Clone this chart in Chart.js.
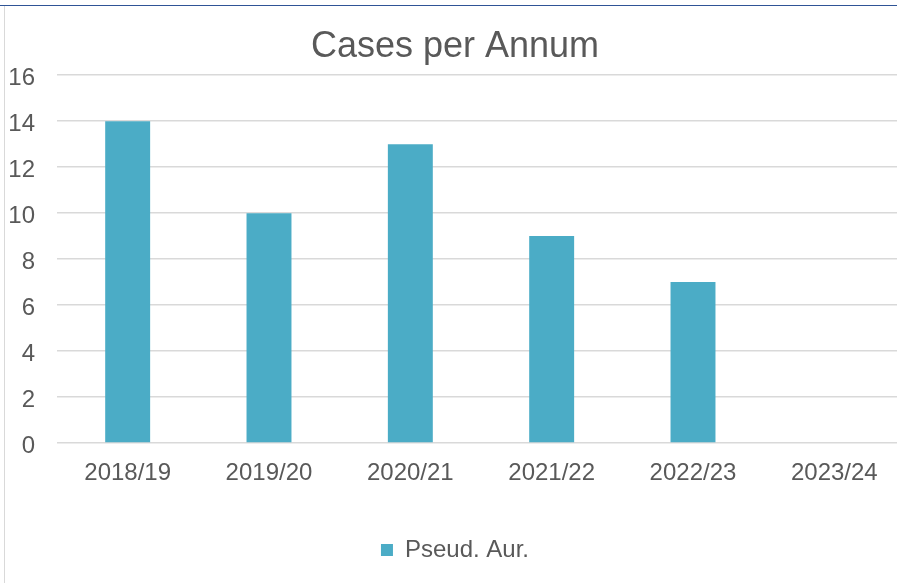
<!DOCTYPE html>
<html>
<head>
<meta charset="utf-8">
<script src="https://cdn.jsdelivr.net/npm/chart.js@4"></script>
<style>
  html, body { margin: 0; padding: 0; background: #fff; overflow: hidden; width: 897px; height: 583px; }
  #topLine { position: absolute; left: 0; top: 5px; width: 897px; height: 1px; background: #2f5496; }
  #leftLine { position: absolute; left: 4px; top: 6px; width: 1px; height: 577px; background: #d9d9d9; }
  #wrap { position: absolute; left: 5px; top: 6px; width: 905px; height: 577px; }
</style>
</head>
<body>
<div id="topLine"></div>
<div id="leftLine"></div>
<div id="wrap"><canvas id="casesChart"></canvas></div>
<script>
const seasons = ['2018/19', '2019/20', '2020/21', '2021/22', '2022/23', '2023/24'];
const pseudAurCases = [14, 10, 13, 9, 7, 0];
const yTicks = [0, 2, 4, 6, 8, 10, 12, 14, 16];

const textColor = '#595959';
const fontFamily = 'Arial, "Liberation Sans", sans-serif';

const ctx = document.getElementById('casesChart').getContext('2d');
const casesChart = new Chart(ctx, {
    type: 'bar',
    data: {
        labels: seasons,
        datasets: [
            {
                label: 'Pseud. Aur.',
                data: pseudAurCases,
                backgroundColor: '#4bacc6',
                borderWidth: 0,
                categoryPercentage: 1,
                barPercentage: 0.318,
            },
        ],
    },
    options: {
        responsive: true,
        maintainAspectRatio: false,
        animation: false,
        layout: {
            padding: { left: 0, right: 5, top: 0, bottom: 11 }
        },
        plugins: {
            title: {
                display: true,
                text: 'Cases per Annum',
                color: textColor,
                font: { family: fontFamily, size: 36, weight: 'normal' },
                padding: { top: 19, bottom: 7 }
            },
            legend: {
                position: 'bottom',
                labels: {
                    color: textColor,
                    boxWidth: 12,
                    boxHeight: 12,
                    font: { family: fontFamily, size: 24 }
                }
            },
            tooltip: { enabled: false }
        },
        scales: {
            x: {
                grid: { display: false },
                border: { display: false },
                ticks: {
                    color: textColor,
                    padding: 8,
                    font: { family: fontFamily, size: 24 }
                },
                afterFit: (scale) => { scale.height = 85; }
            },
            y: {
                min: 0,
                max: 16,
                afterBuildTicks: (scale) => { scale.ticks = yTicks.map(v => ({ value: v })); },
                grid: { color: '#d9d9d9', lineWidth: 1.5, drawTicks: false },
                border: { display: false },
                ticks: {
                    color: textColor,
                    padding: 22,
                    labelOffset: 3,
                    font: { family: fontFamily, size: 24 }
                },
                afterFit: (scale) => { scale.width = 52; }
            }
        }
    }
});
</script>
</body>
</html>
